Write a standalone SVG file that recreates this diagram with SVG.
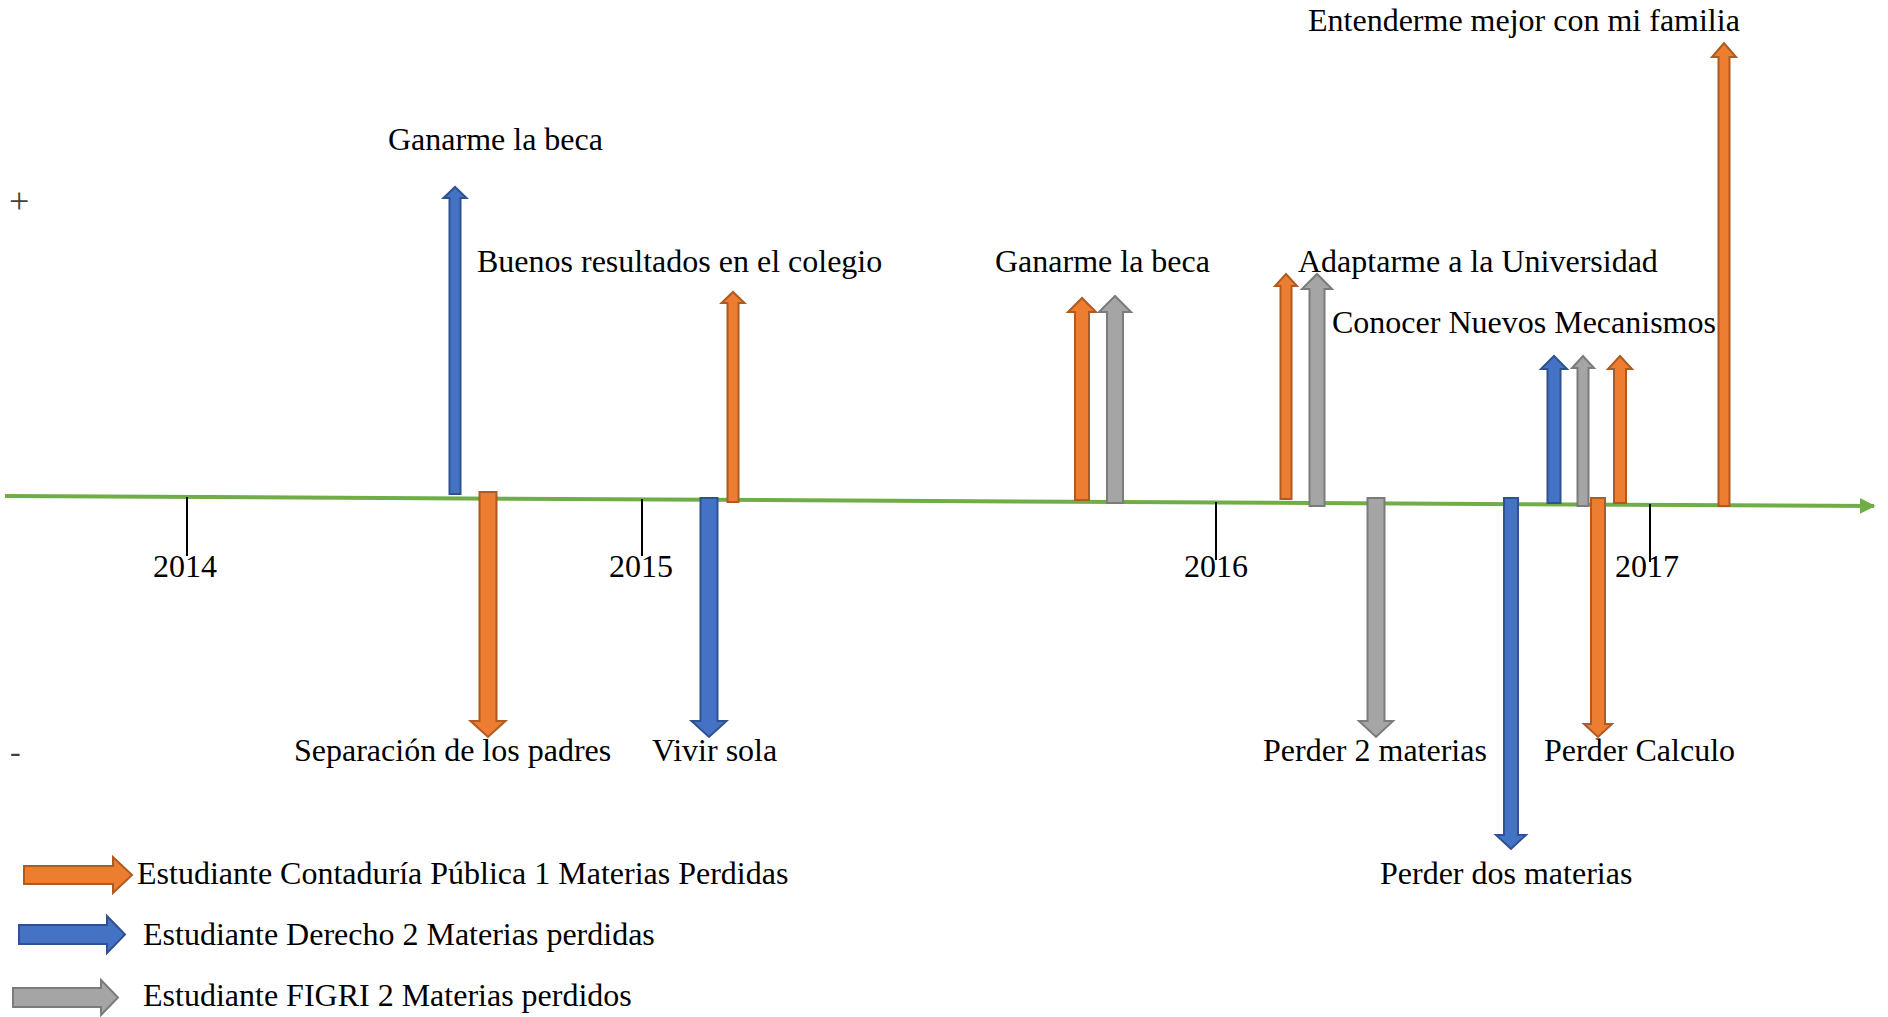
<svg xmlns="http://www.w3.org/2000/svg" width="1888" height="1017" viewBox="0 0 1888 1017">
<style>
text{font-family:"Liberation Serif","Times New Roman",serif;font-size:32px;fill:#000}
.sign{fill:#404040}
.o{fill:#ED7D31;stroke:#AE5A21;stroke-width:2}
.b{fill:#4472C4;stroke:#2F528F;stroke-width:2}
.g{fill:#A5A5A5;stroke:#7B7B7B;stroke-width:2}
.tick{stroke:#000;stroke-width:2}
</style>
<defs>
<marker id="ah" viewBox="0 0 10 10" refX="9" refY="5" markerWidth="4" markerHeight="4" orient="auto">
<path d="M0,0 L10,5 L0,10 Z" fill="#70AD47"/>
</marker>
</defs>
<rect width="1888" height="1017" fill="#fff"/>
<g id="axis">
<line x1="5" y1="496" x2="1874" y2="506" stroke="#70AD47" stroke-width="4" marker-end="url(#ah)"/>
<line class="tick" x1="187" y1="497" x2="187" y2="556"/>
<line class="tick" x1="642" y1="499" x2="642" y2="556"/>
<line class="tick" x1="1216" y1="502" x2="1216" y2="560"/>
<line class="tick" x1="1650" y1="504" x2="1650" y2="562"/>
<text x="153" y="577">2014</text>
<text x="609" y="577">2015</text>
<text x="1184" y="577">2016</text>
<text x="1615" y="577">2017</text>
<text class="sign" x="9" y="213" style="font-size:36px">+</text>
<text class="sign" x="10" y="762">-</text>
</g>
<g id="connectors">
<path id="a1" class="b" d="M449.5,494 V198 H443.5 L455,187 L466.5,198 H460.5 V494 Z"/>
<path id="a2" class="o" d="M479.5,492 V721 H470.5 L488,737 L505.5,721 H496.5 V492 Z"/>
<path id="a3" class="b" d="M700.5,498 V721 H691.5 L709,737 L726.5,721 H717.5 V498 Z"/>
<path id="a4" class="o" d="M727.5,502 V303 H721.5 L733,292 L744.5,303 H738.5 V502 Z"/>
<path id="a5" class="o" d="M1075,500 V312 H1068 L1082,298 L1096,312 H1089 V500 Z"/>
<path id="a6" class="g" d="M1107,503 V312 H1099 L1115,296 L1131,312 H1123 V503 Z"/>
<path id="a7" class="o" d="M1280.5,499 V286 H1275 L1286,274 L1297,286 H1291.5 V499 Z"/>
<path id="a8" class="g" d="M1309.5,506 V289 H1302 L1317,274 L1332,289 H1324.5 V506 Z"/>
<path id="a9" class="g" d="M1367.5,498 V721 H1359 L1376,737 L1393,721 H1384.5 V498 Z"/>
<path id="a10" class="b" d="M1504,498 V835 H1496 L1511,849 L1526,835 H1518 V498 Z"/>
<path id="a11" class="b" d="M1547.5,503 V369 H1541 L1554,356 L1567,369 H1560.5 V503 Z"/>
<path id="a12" class="g" d="M1577.5,506 V368 H1572 L1583,356 L1594,368 H1588.5 V506 Z"/>
<path id="a13" class="o" d="M1591,498 V724 H1584 L1598,737 L1612,724 H1605 V498 Z"/>
<path id="a14" class="o" d="M1614,503 V369 H1608 L1620,356 L1632,369 H1626 V503 Z"/>
<path id="a15" class="o" d="M1718.5,506 V57 H1712 L1724,43 L1736,57 H1729.5 V506 Z"/>
</g>
<g id="labels">
<text id="t1" x="388" y="150">Ganarme la beca</text>
<text id="t2" x="1308" y="31">Entenderme mejor con mi familia</text>
<text id="t3" x="477" y="272">Buenos resultados en el colegio</text>
<text id="t4" x="995" y="272">Ganarme la beca</text>
<text id="t5" x="1298" y="272">Adaptarme a la Universidad</text>
<text id="t6" x="1332" y="333">Conocer Nuevos Mecanismos</text>
<text id="t7" x="294" y="761">Separación de los padres</text>
<text id="t8" x="652" y="761">Vivir sola</text>
<text id="t9" x="1263" y="761">Perder 2 materias</text>
<text id="t10" x="1544" y="761">Perder Calculo</text>
<text id="t11" x="1380" y="884">Perder dos materias</text>
</g>
<g id="legend">
<g id="leg1">
<path class="o" d="M24,866 H113 V857 L132,875 L113,893 V884 H24 Z"/>
<text x="137" y="884">Estudiante Contaduría Pública 1 Materias Perdidas</text>
</g>
<g id="leg2">
<path class="b" d="M19,925 H107 V916 L125,934.5 L107,953 V944 H19 Z"/>
<text x="143" y="945">Estudiante Derecho 2 Materias perdidas</text>
</g>
<g id="leg3">
<path class="g" d="M13,988 H101 V980 L118,997.5 L101,1015 V1007 H13 Z"/>
<text x="143" y="1006">Estudiante FIGRI 2 Materias perdidos</text>
</g>
</g>
</svg>
